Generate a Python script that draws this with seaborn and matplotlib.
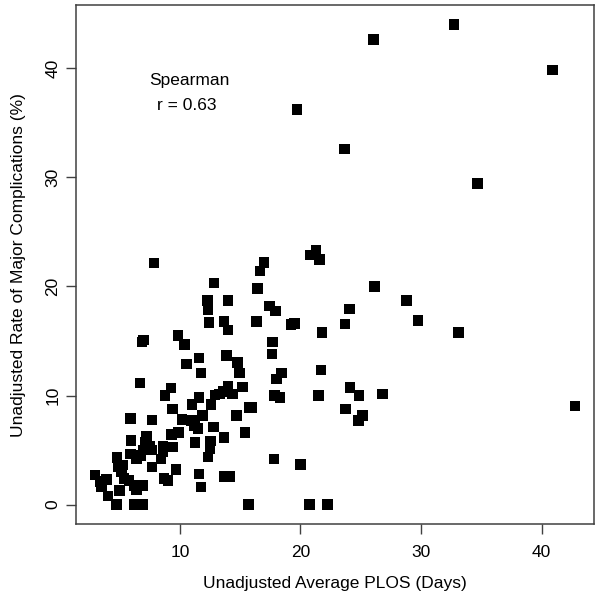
import seaborn as sns
import matplotlib.pyplot as plt
import pandas as pd
import numpy as np

# hospital level values
plos_days = [
    2.95, 3.4, 3.9, 3.5, 4.05, 4.75, 4.8, 4.9, 5.3, 5.15,
    5.0, 5.35, 5.8, 6.25, 6.95, 6.4, 6.25, 6.95, 5.9, 6.4,
    6.8, 5.95, 5.9, 6.7, 6.85, 7.0, 7.85, 7.25, 7.15, 7.5,
    6.95, 7.65, 7.7, 7.7, 8.6, 9.45, 8.6, 8.45, 8.7, 9.0,
    9.7, 9.3, 9.9, 9.4, 8.75, 9.25, 9.85, 10.4, 10.55, 10.2,
    10.95, 11.2, 11.9, 11.5, 11.0, 11.6, 12.6, 11.6, 11.75, 11.25,
    11.6, 11.75, 12.85, 12.3, 12.35, 12.4, 12.8, 12.55, 12.5, 12.35,
    12.9, 13.3, 13.6, 14.0, 14.35, 13.65, 14.0, 14.0, 13.85, 14.8,
    14.95, 13.65, 13.7, 14.15, 14.7, 15.2, 15.75, 15.95, 15.4, 15.7,
    16.45, 16.35, 16.65, 17.0, 17.45, 17.95, 17.7, 17.65, 18.45, 18.0,
    17.85, 18.3, 17.8, 19.2, 19.5, 19.7, 20.0, 20.75, 20.85, 21.3,
    21.6, 21.8, 21.7, 21.5, 22.25, 23.65, 23.7, 24.05, 24.1, 23.75,
    24.85, 25.15, 24.8, 26.05, 26.15, 26.8, 28.8, 29.75, 32.75, 33.1,
    34.7, 40.9, 42.75,
]
major_compl = [
    2.7, 2.1, 2.3, 1.6, 0.8, 0.0, 4.3, 3.5, 3.65, 3.0,
    1.3, 2.4, 2.2, 1.75, 1.75, 1.35, 0.0, 0.0, 4.65, 4.2,
    4.5, 5.9, 7.9, 11.15, 14.9, 15.1, 22.15, 6.3, 5.7, 5.35,
    5.0, 5.0, 7.75, 3.45, 5.35, 5.3, 4.85, 4.2, 2.4, 2.2,
    3.2, 6.45, 6.6, 8.75, 10.0, 10.7, 15.5, 14.7, 12.9, 7.8,
    7.7, 7.2, 8.15, 7.0, 9.2, 9.8, 9.2, 13.45, 12.05, 5.7,
    2.8, 1.6, 20.3, 18.7, 17.9, 16.7, 7.1, 5.85, 5.1, 4.35,
    10.05, 10.15, 10.35, 10.85, 10.15, 16.8, 16.0, 18.7, 13.65, 13.05,
    12.05, 6.15, 2.6, 2.6, 8.15, 10.8, 8.9, 8.9, 6.6, 0.0,
    19.8, 16.8, 21.4, 22.2, 18.2, 17.75, 14.9, 13.8, 12.05, 11.5,
    10.0, 9.8, 4.2, 16.5, 16.6, 36.2, 3.7, 0.0, 22.9, 23.3,
    22.45, 15.8, 12.35, 10.0, 0.0, 32.6, 16.55, 17.95, 10.75, 8.75,
    10.0, 8.15, 7.7, 42.65, 20.0, 10.15, 18.7, 16.9, 44.0, 15.8,
    29.45, 39.85, 9.05,
]
x_ticks = [10, 20, 30, 40]
y_ticks = [0, 10, 20, 30, 40]

df = pd.DataFrame({"plos": plos_days, "rate": major_compl})

sns.set_theme(style="ticks")
plt.rcParams["font.family"] = ["Liberation Sans", "DejaVu Sans"]
plt.rcParams["text.color"] = "black"
plt.rcParams["axes.labelcolor"] = "black"
plt.rcParams["xtick.labelcolor"] = "black"
plt.rcParams["ytick.labelcolor"] = "black"

fig = plt.figure(figsize=(6.0, 5.98), dpi=100)
ax = fig.add_axes([0.126, 0.124, 0.864, 0.867])

sns.scatterplot(data=df, x="plos", y="rate", marker="s", s=57,
                color="black", edgecolor="none", ax=ax)

# R style 4% padding
def padded(v):
    lo, hi = min(v), max(v)
    d = (hi - lo) * 0.04
    return lo - d, hi + d

ax.set_xlim(padded(plos_days))
ax.set_ylim(padded(major_compl))
ax.set_xticks(x_ticks)
ax.set_yticks(y_ticks)
ax.tick_params(axis="both", labelsize=12.5, length=7, width=1,
               color="#404040", direction="out")
ax.tick_params(axis="x", pad=8)
ax.tick_params(axis="y", pad=4)
for lab in ax.get_yticklabels():
    lab.set_rotation(90)
    lab.set_va("center")
for sp in ax.spines.values():
    sp.set_visible(True)
    sp.set_color("#404040")
    sp.set_linewidth(1.1)

ax.set_xlabel("Unadjusted Average PLOS (Days)", fontsize=12.5, labelpad=12)
ax.set_ylabel("Unadjusted Rate of Major Complications (%)", fontsize=12.5,
              labelpad=14)

ax.text(10.8, 38.9, "Spearman", fontsize=12.5, ha="center", va="center")
ax.text(10.6, 36.6, "r = 0.63", fontsize=12.5, ha="center", va="center")

fig.savefig("out.png", dpi=100)
